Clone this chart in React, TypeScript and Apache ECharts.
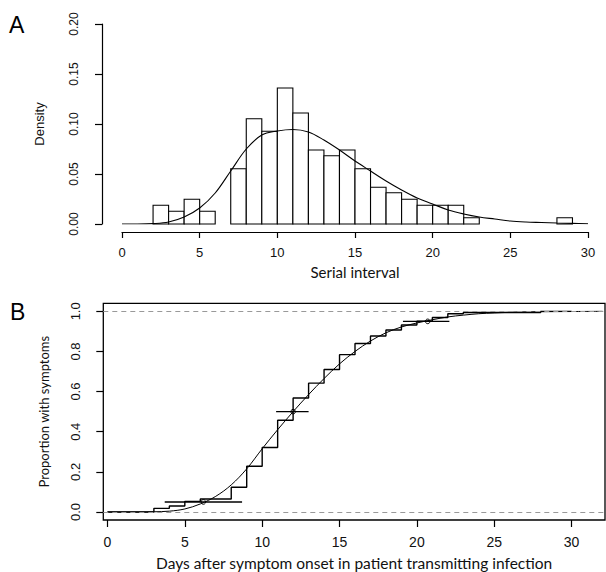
import React, { useEffect, useRef } from 'react';
import * as echarts from 'echarts';

// Panel A: histogram of serial interval (bin start, width 1) and fitted density
const binStarts = [2, 3, 4, 5, 7, 8, 9, 10, 11, 12, 13, 14, 15, 16, 17, 18, 19, 20, 21, 22, 28];
const binDensity = [0.0187, 0.0127, 0.0247, 0.0127, 0.0553, 0.1053, 0.0927, 0.136, 0.111, 0.074, 0.0683, 0.074, 0.0553, 0.0367, 0.0313, 0.0247, 0.0187, 0.0187, 0.0187, 0.0062, 0.0062];
const binWidth = 1;

const densityX = [0, 1, 2, 3, 4, 5, 6, 7, 8, 9, 10, 11, 12, 13, 14, 15, 16, 17, 18, 19, 20, 21, 22, 23, 24, 25, 26, 27, 28, 29, 30];
const densityY = [0, 0, 0.0004, 0.002, 0.007, 0.016, 0.031, 0.053, 0.075, 0.089, 0.093, 0.0945, 0.092, 0.084, 0.074, 0.063, 0.053, 0.043, 0.034, 0.026, 0.02, 0.014, 0.01, 0.007, 0.005, 0.003, 0.002, 0.0015, 0.001, 0.0006, 0.0003];

const xTicksA = [0, 5, 10, 15, 20, 25, 30];

// Panel B: empirical step function, fitted CDF, and quantile intervals
const stepX = [0, 3, 4, 5, 6, 8, 9, 10, 11, 12, 13, 14, 15, 16, 17, 18, 19, 20, 21, 22, 23, 28, 30];
const stepY = [0, 0.018, 0.03, 0.053, 0.065, 0.123, 0.228, 0.321, 0.457, 0.568, 0.642, 0.71, 0.784, 0.84, 0.877, 0.907, 0.932, 0.951, 0.969, 0.988, 0.994, 1.0, 1.0];

const cdfX = [0, 1, 2, 3, 4, 5, 6, 7, 8, 9, 10, 11, 12, 13, 14, 15, 16, 17, 18, 19, 20, 21, 22, 23, 24, 25, 26, 27, 28, 30, 32];
const cdfY = [0, 0, 0, 0.001, 0.004, 0.015, 0.04, 0.078, 0.135, 0.215, 0.315, 0.41, 0.5, 0.585, 0.665, 0.738, 0.8, 0.852, 0.893, 0.922, 0.942, 0.958, 0.972, 0.981, 0.988, 0.992, 0.995, 0.997, 0.998, 0.999, 1.0];

const ciLevel = [0.05, 0.5, 0.95];
const ciLow = [3.7, 10.9, 19.1];
const ciHigh = [8.7, 13.0, 22.1];
const ciPoint = [6.2, 12.0, 20.7];

const xTicksB = [0, 5, 10, 15, 20, 25, 30];
const yTicksB = [0, 0.2, 0.4, 0.6, 0.8, 1.0];

const refLevels = [0, 1];

const TXT = '#111';

export default function App() {
  const ref = useRef<HTMLDivElement>(null);
  useEffect(() => {
    document.body.style.margin = '0';
    const chart = echarts.init(ref.current as HTMLDivElement, null, { renderer: 'svg' });
    const option: any = {
      animation: false,
      backgroundColor: '#fff',
      grid: [
        { left: 122, top: 24, width: 466, height: 200, containLabel: false },
        {
          left: 103.3, top: 303.3, width: 501.7, height: 216.7, containLabel: false,
          show: true, borderColor: '#000', borderWidth: 1.3, backgroundColor: 'transparent',
        },
      ],
      xAxis: [
        {
          gridIndex: 0, type: 'value', min: 0, max: 30, interval: 5, offset: 8,
          axisLine: { show: true, onZero: false, lineStyle: { color: '#000', width: 1.2 } },
          axisTick: { show: true, length: 6, lineStyle: { color: '#000', width: 1.2 } },
          axisLabel: { color: TXT, fontSize: 13, margin: 14, fontFamily: 'Liberation Sans', customValues: xTicksA },
          splitLine: { show: false },
          name: 'Serial interval', nameLocation: 'middle', nameGap: 32,
          nameTextStyle: { color: TXT, fontSize: 15, fontFamily: 'Lato' },
        },
        {
          gridIndex: 1, type: 'value', min: -0.27, max: 32.16,
          axisLine: { show: false, onZero: false },
          axisTick: { show: true, length: 7, lineStyle: { color: '#000', width: 1.2 }, customValues: xTicksB },
          axisLabel: { color: TXT, fontSize: 14, margin: 15, fontFamily: 'Liberation Sans', customValues: xTicksB },
          splitLine: { show: false },
          name: 'Days after symptom onset in patient transmitting infection', nameLocation: 'middle', nameGap: 35,
          nameTextStyle: { color: TXT, fontSize: 15.5, fontFamily: 'Lato' },
        },
      ],
      yAxis: [
        {
          gridIndex: 0, type: 'value', min: 0, max: 0.2, interval: 0.05, offset: 20,
          axisLine: { show: true, onZero: false, lineStyle: { color: '#000', width: 1.2 } },
          axisTick: { show: true, length: 7, lineStyle: { color: '#000', width: 1.2 } },
          axisLabel: {
            color: TXT, fontSize: 12, margin: 22, rotate: 90, fontFamily: 'Liberation Sans Narrow, Liberation Sans',
            formatter: (v: number) => v.toFixed(2),
          },
          splitLine: { show: false },
          name: 'Density', nameLocation: 'middle', nameGap: 56,
          nameTextStyle: { color: TXT, fontSize: 13, fontFamily: 'Liberation Sans' },
        },
        {
          gridIndex: 1, type: 'value', min: -0.04, max: 1.04,
          axisLine: { show: false, onZero: false },
          axisTick: { show: true, length: 7, lineStyle: { color: '#000', width: 1.2 }, customValues: yTicksB },
          axisLabel: {
            color: TXT, fontSize: 13, margin: 21, rotate: 90, fontFamily: 'Liberation Sans',
            customValues: yTicksB, formatter: (v: number) => v.toFixed(1),
          },
          splitLine: { show: false },
          name: 'Proportion with symptoms', nameLocation: 'middle', nameGap: 53,
          nameTextStyle: { color: TXT, fontSize: 13, fontFamily: 'Lato' },
        },
      ],
      graphic: [
        { type: 'text', left: 9, top: 13, style: { text: 'A', fontSize: 23, fontFamily: 'Liberation Sans', fill: '#000' } },
        { type: 'text', left: 10, top: 300, style: { text: 'B', fontSize: 23, fontFamily: 'Liberation Sans', fill: '#000' } },
      ],
      series: [
        {
          type: 'custom', xAxisIndex: 0, yAxisIndex: 0,
          data: binStarts.map((s, i) => [s, s + binWidth, binDensity[i]]),
          encode: { x: [0, 1], y: 2 },
          renderItem: (params: any, api: any) => {
            const p0 = api.coord([api.value(0), 0]);
            const p1 = api.coord([api.value(1), api.value(2)]);
            return {
              type: 'rect',
              shape: { x: p0[0], y: p1[1], width: p1[0] - p0[0], height: p0[1] - p1[1] },
              style: { fill: '#fff', stroke: '#000', lineWidth: 1.1 },
            };
          },
        },
        {
          type: 'line', xAxisIndex: 0, yAxisIndex: 0,
          data: densityX.map((x, i) => [x, densityY[i]]),
          smooth: 0.35, symbol: 'none',
          lineStyle: { color: '#000', width: 1.1 },
        },
        {
          type: 'line', xAxisIndex: 1, yAxisIndex: 1,
          data: cdfX.map((x, i) => [x, cdfY[i]]),
          smooth: 0.35, symbol: 'none', clip: true,
          lineStyle: { color: '#000', width: 1 },
          markLine: {
            silent: true, symbol: 'none', label: { show: false },
            lineStyle: { color: '#999', type: [5, 4], width: 1 },
            data: refLevels.map((v) => ({ yAxis: v })),
          },
        },
        {
          type: 'line', xAxisIndex: 1, yAxisIndex: 1,
          data: stepX.map((x, i) => [x, stepY[i]]),
          step: 'end', symbol: 'none',
          lineStyle: { color: '#000', width: 1.4 },
        },
        {
          type: 'custom', xAxisIndex: 1, yAxisIndex: 1,
          data: ciLevel.map((p, i) => [ciLow[i], ciHigh[i], p, ciPoint[i]]),
          encode: { x: [0, 1, 3], y: 2 },
          renderItem: (params: any, api: any) => {
            const a = api.coord([api.value(0), api.value(2)]);
            const b = api.coord([api.value(1), api.value(2)]);
            const c = api.coord([api.value(3), api.value(2)]);
            return {
              type: 'group',
              children: [
                { type: 'line', shape: { x1: a[0], y1: a[1], x2: b[0], y2: b[1] }, style: { stroke: '#000', lineWidth: 1.4 } },
                { type: 'circle', shape: { cx: c[0], cy: c[1], r: 2.3 }, style: { fill: 'none', stroke: '#000', lineWidth: 1 } },
              ],
            };
          },
        },
      ],
    };
    chart.setOption(option);
    return () => chart.dispose();
  }, []);
  return <div ref={ref} style={{ width: 606, height: 572 }} />;
}
